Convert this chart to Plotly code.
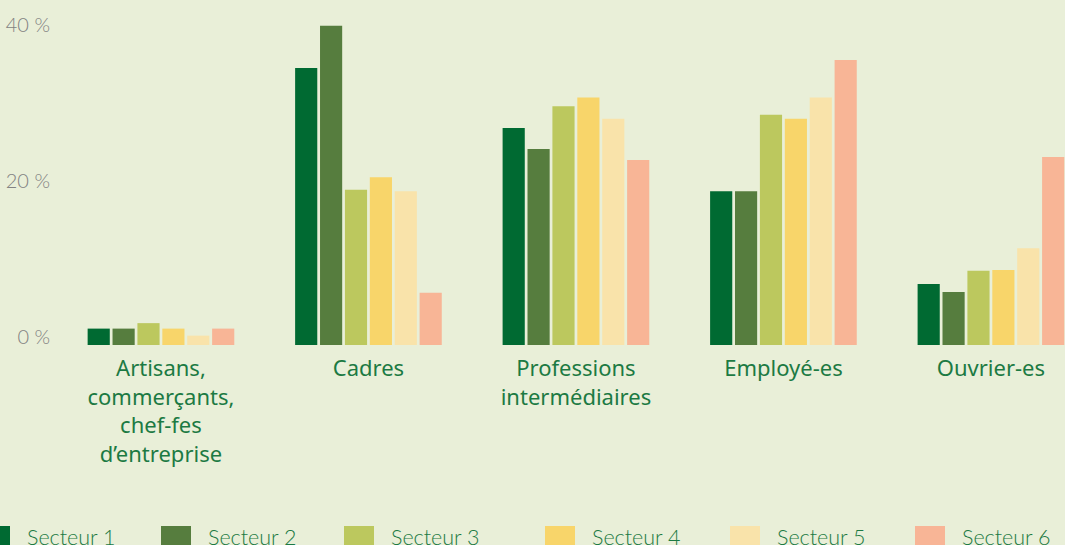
import plotly.graph_objects as go

categories = [
    "Artisans,<br>commerçants,<br>chef-fes<br>d’entreprise",
    "Cadres",
    "Professions<br>intermédiaires",
    "Employé-es",
    "Ouvrier-es",
]
series_names = ["Secteur 1", "Secteur 2", "Secteur 3", "Secteur 4", "Secteur 5", "Secteur 6"]
secteur_1 = [2.1, 35.5, 27.8, 19.7, 7.8]
secteur_2 = [2.1, 40.9, 25.1, 19.7, 6.8]
secteur_3 = [2.8, 19.9, 30.6, 29.5, 9.5]
secteur_4 = [2.1, 21.5, 31.7, 29.0, 9.6]
secteur_5 = [1.2, 19.7, 29.0, 31.7, 12.4]
secteur_6 = [2.1, 6.7, 23.7, 36.5, 24.1]
y_ticks = [0, 20, 40]
y_tick_labels = ["0 %", "20 %", "40 %"]

series_values = [secteur_1, secteur_2, secteur_3, secteur_4, secteur_5, secteur_6]
colors = ["#006a32", "#567d3e", "#bcc85e", "#f8d56a", "#f9e3aa", "#f8b596"]

BG = "#e9efd8"
GREEN_TEXT = "#1c7a43"
FONT = "Lato"
CAT_FONT = "Noto Sans"

W, H = 1065, 545
ML, MR, MT, MB = 57, 0, 0, 200
PW, PH = W - ML - MR, H - MT - MB

fig = go.Figure()
for name, vals, col in zip(series_names, series_values, colors):
    fig.add_trace(go.Bar(
        x=categories, y=vals, name=name,
        marker=dict(color=col, line=dict(width=0)),
        showlegend=False,
    ))

# legend: swatches and labels along the bottom edge
legend_swatch_px = [-20, 161, 344, 545, 730, 915]
for name, col, sx in zip(series_names, colors, legend_swatch_px):
    x0 = (sx - ML) / PW
    x1 = (sx + 30 - ML) / PW
    y0 = (PH - 526) / PH
    y1 = (PH - 550) / PH
    fig.add_shape(type="rect", xref="paper", yref="paper",
                  x0=x0, x1=x1, y0=y0, y1=y1,
                  fillcolor=col, line=dict(width=0), layer="above")
    fig.add_annotation(xref="paper", yref="paper",
                       x=(sx + 45 - ML) / PW, y=(PH - 537) / PH,
                       xanchor="left", yanchor="middle", showarrow=False,
                       text=name,
                       font=dict(family=FONT, size=21.5, color=GREEN_TEXT, weight=300))

fig.update_layout(
    width=W, height=H,
    margin=dict(l=ML, r=MR, t=MT, b=MB, pad=0),
    paper_bgcolor=BG, plot_bgcolor=BG,
    barmode="group", bargap=0.28, bargroupgap=0.11,
    font=dict(family=FONT),
)
fig.update_xaxes(
    range=[-0.501, 4.357],
    showgrid=False, zeroline=False, showline=False,
    ticks="", ticklabelstandoff=8,
    tickfont=dict(family=CAT_FONT, size=22, color=GREEN_TEXT),
)
fig.update_yaxes(
    range=[0, 44.2],
    tickvals=y_ticks, ticktext=y_tick_labels,
    ticklabelposition="outside", ticklabelshift=-8,
    showgrid=False, zeroline=False, showline=False,
    ticks="", ticklabelstandoff=6,
    tickfont=dict(family=FONT, size=20, color="#828282", weight=300),
)

fig.write_html("out.html")
